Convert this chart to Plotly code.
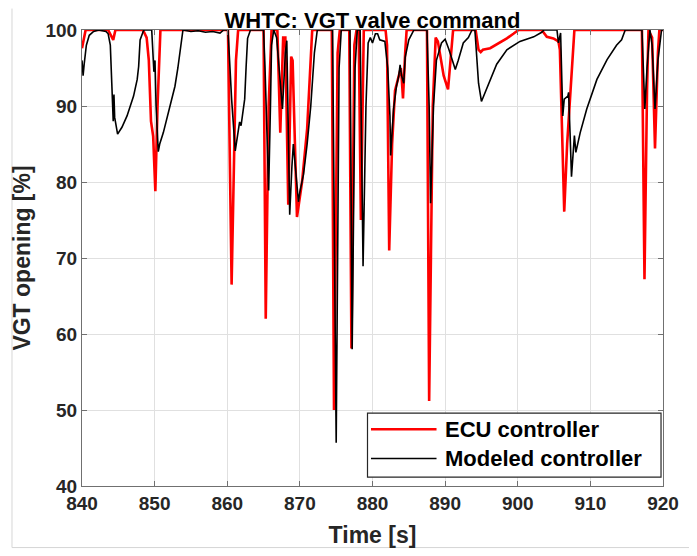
import plotly.graph_objects as go

# ---------------- data ----------------
ecu_time = [840.0, 840.5, 843.6, 844.0, 844.3, 844.6, 848.4, 848.9, 849.2, 849.5,
            849.8, 850.1, 850.4, 850.8, 860.1, 860.6, 861.2, 861.5, 865.0, 865.3,
            865.7, 866.1, 866.9, 867.3, 867.7, 868.0, 868.4, 868.8, 869.0, 869.6,
            870.3, 871.0, 871.7, 874.4, 874.7, 875.2, 875.5, 876.8, 877.1, 877.5,
            877.8, 878.1, 878.4, 878.8, 881.8, 882.0, 882.3, 882.7, 883.1, 883.6,
            883.9, 884.0, 884.2, 884.5, 884.7, 887.5, 887.8, 888.3, 888.7, 889.0,
            889.8, 890.4, 890.8, 891.1, 894.2, 894.6, 894.9, 895.2, 896.2, 897.3,
            898.5, 899.4, 900.1, 903.3, 904.0, 904.9, 905.6, 905.8, 906.1, 906.4,
            906.8, 907.4, 907.8, 917.1, 917.45, 917.8, 918.0, 918.5, 918.9, 919.3,
            919.5, 920.0]
ecu_value = [97.6, 100, 100, 99.3, 98.7, 100, 100, 99, 96, 88,
             86, 78.8, 90, 100, 100, 66.5, 96, 100, 100, 62,
             90, 100, 100, 86.5, 99, 99, 77, 96.5, 96, 75.4,
             80, 87, 100, 100, 50, 97, 100, 100, 58.1, 98,
             100, 100, 75, 100, 100, 98, 71, 85, 92, 93.9,
             95, 94, 91, 97, 100, 100, 51.2, 90, 99, 98.5,
             94, 92.2, 97, 100, 100, 97.4, 97.1, 97.4, 97.6, 98.2,
             98.9, 99.5, 100, 100, 99.1, 98.9, 98.5, 97.4, 85, 76.1,
             85, 95, 100, 100, 67.2, 92, 100, 99, 84.4, 97,
             100, 100]

model_time = [840.0, 840.15, 840.3, 840.6, 841.0, 841.6, 842.3, 843.3, 843.6, 843.9,
              844.1, 844.3, 844.4, 844.5, 844.9, 845.5, 846.2, 847.1, 847.6, 847.8,
              848.0, 848.5, 849.6, 849.8, 849.9, 850.05, 850.2, 850.5, 850.7, 851.2,
              851.7, 852.3, 852.8, 853.2, 853.5, 853.9, 855.0, 856.0, 857.0, 858.0,
              859.0, 859.5, 860.1, 860.6, 861.1, 861.5, 861.7, 861.9, 862.4, 862.6,
              862.8, 863.2, 865.0, 865.2, 865.7, 865.95, 866.1, 866.4, 866.8, 867.6,
              868.0, 868.2, 868.6, 868.9, 869.1, 869.8, 870.0, 870.5, 871.0, 871.5,
              872.0, 872.4, 874.5, 875.0, 875.4, 875.7, 876.9, 877.2, 877.6, 877.9,
              878.3, 878.7, 879.1, 879.4, 879.7, 880.0, 880.4, 880.7, 881.0, 881.7,
              882.1, 882.4, 882.5, 882.9, 883.3, 883.6, 883.8, 884.0, 884.3, 884.5,
              885.0, 885.7, 887.5, 887.8, 888.0, 888.4, 888.8, 889.5, 890.0, 890.5,
              891.1, 891.4, 891.8, 892.5, 893.2, 893.7, 894.1, 894.6, 895.0, 895.7,
              896.4, 897.1, 898.5, 900.3, 902.2, 903.3, 903.6, 905.4, 905.6, 905.9,
              906.2, 906.4, 906.9, 907.0, 907.2, 907.4, 907.8, 908.0, 908.6, 909.5,
              910.9, 912.3, 913.6, 914.3, 914.8, 917.1, 917.5, 917.8, 918.2, 918.5,
              918.9, 919.3, 919.8, 920.0]
model_value = [96, 94, 95.5, 98, 99.3, 99.8, 100, 99.8, 99.5, 98,
               93, 88, 91.5, 88.5, 86.3, 87.2, 88.7, 91.3, 93.5, 95.2,
               98.7, 100, 100, 95.4, 94.5, 96, 90, 84, 85, 86.5,
               88.3, 90.5, 92.6, 95, 97, 100, 99.8, 99.9, 99.7, 99.8,
               99.6, 100, 100, 90.9, 84.1, 86.5, 87.9, 87.4, 90.9, 95.2,
               98.9, 100, 100, 95, 78.9, 90, 98, 100, 99, 89.6,
               97, 98.6, 75.7, 82, 85, 77.4, 78.7, 81, 85, 90,
               97, 100, 100, 45.7, 95, 100, 100, 58, 95, 100,
               100, 68.9, 90, 98.3, 99, 98.3, 99.5, 99.5, 98.7, 98.5,
               95, 88.7, 83.5, 89.6, 92.6, 93.9, 95.4, 94, 93, 96.4,
               98.7, 100, 100, 90, 77.2, 90, 96, 98.3, 98.8, 97.5,
               95.7, 94.8, 96, 98.3, 99, 100, 100, 93.0, 90.6, 92.3,
               94, 95.5, 97.4, 98.5, 99.1, 99.7, 100, 100, 98.3, 99.6,
               88.7, 90.9, 91.3, 91.8, 86.5, 80.7, 86.1, 83.9, 86.5, 89.6,
               93.5, 96.1, 98.0, 98.7, 100, 100, 89.6, 95, 100, 98,
               89.6, 96, 100, 100]

series_names = ["ECU controller", "Modeled controller"]
x_ticks = [840, 850, 860, 870, 880, 890, 900, 910, 920]
y_ticks = [40, 50, 60, 70, 80, 90, 100]

# ---------------- figure ----------------
FONT = "Liberation Sans, Arial, Helvetica, sans-serif"
TXT = "#262626"
W, H = 689, 548  # page body adds an 8px offset

fig = go.Figure()
fig.add_trace(go.Scatter(x=ecu_time, y=ecu_value, mode="lines", name=series_names[0],
                         line=dict(color="#ff0000", width=2.6), showlegend=False))
fig.add_trace(go.Scatter(x=model_time, y=model_value, mode="lines", name=series_names[1],
                         line=dict(color="#000000", width=1.6), showlegend=False))

axis_common = dict(
    showgrid=True, gridcolor="#e0e0e0", gridwidth=1,
    showline=True, linecolor="#707070", linewidth=1, mirror="ticks",
    ticks="inside", ticklen=5, tickcolor="#707070",
    tickfont=dict(family=FONT, size=19, color=TXT, weight="bold"),
    zeroline=False,
)
fig.update_xaxes(range=[840, 920], tickvals=x_ticks, **axis_common,
                 title=dict(text="Time [s]", font=dict(family=FONT, size=23, color=TXT, weight="bold"),
                            standoff=14))
fig.update_yaxes(range=[40, 100], tickvals=y_ticks, **axis_common,
                 title=dict(text="VGT opening [%]", font=dict(family=FONT, size=23, color=TXT, weight="bold"),
                            standoff=8))

# legend drawn manually (MATLAB-style long line samples)
shapes = [
    dict(type="rect", xref="paper", yref="paper", x0=0.4914, x1=0.9966, y0=0.0196, y1=0.1598,
         line=dict(color="#262626", width=1.2), fillcolor="white", layer="above"),
    dict(type="line", xref="paper", yref="paper", x0=0.4974, x1=0.6102, y0=0.1246, y1=0.1246,
         line=dict(color="#ff0000", width=2.6), layer="above"),
    dict(type="line", xref="paper", yref="paper", x0=0.4974, x1=0.6102, y0=0.0602, y1=0.0602,
         line=dict(color="#000000", width=1.6), layer="above"),
    # light outer frame of the figure
    dict(type="line", xref="paper", yref="paper", x0=-0.1205, x1=-0.1205, y0=-0.135, y1=1.047,
         line=dict(color="#d6d6d6", width=1)),
    dict(type="line", xref="paper", yref="paper", x0=-0.1205, x1=1.06, y0=-0.135, y1=-0.135,
         line=dict(color="#d6d6d6", width=1)),
]
annotations = [
    dict(xref="paper", yref="paper", x=0.6213, y=0.1246, text=series_names[0], showarrow=False,
         xanchor="left", yanchor="middle", font=dict(family=FONT, size=22, color="#000", weight="bold")),
    dict(xref="paper", yref="paper", x=0.6213, y=0.0602, text=series_names[1], showarrow=False,
         xanchor="left", yanchor="middle", font=dict(family=FONT, size=22, color="#000", weight="bold")),
]

fig.update_layout(
    width=W, height=H,
    margin=dict(l=74, r=34, t=22, b=66),
    paper_bgcolor="white", plot_bgcolor="white",
    title=dict(text="WHTC: VGT valve command", x=0.5, xanchor="center",
               xref="paper",
               y=1 - 12.5 / H, yref="container", yanchor="middle",
               font=dict(family=FONT, size=22, color="#000", weight="bold")),
    shapes=shapes, annotations=annotations,
    showlegend=False,
)

fig.write_html("out.html")
